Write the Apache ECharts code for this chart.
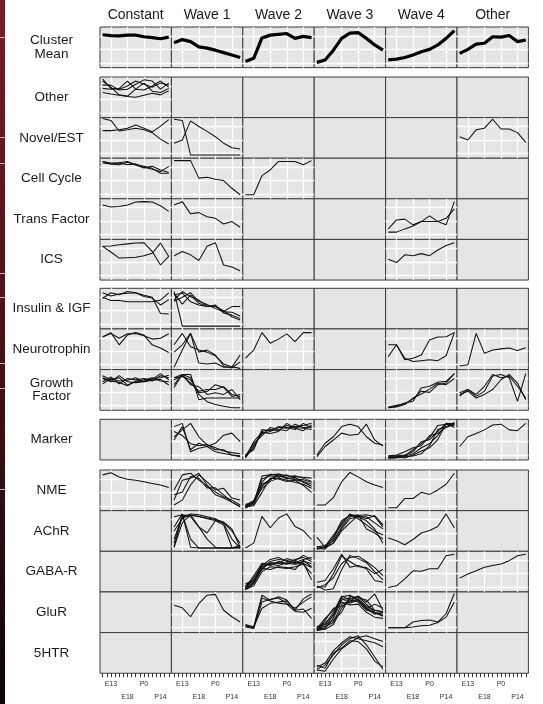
<!DOCTYPE html>
<html><head><meta charset="utf-8">
<script src="https://cdn.jsdelivr.net/npm/echarts@6/dist/echarts.min.js"></script>
<style>html,body{margin:0;padding:0;background:#fff}#c{width:543px;height:704px}</style>
</head><body><div id="c"></div><script>
// ---------- categories / tick labels ----------
const timePoints = ['E11','E13','E15','E18','E21','P0','P7','P14','A'];
const columns = ['Constant','Wave 1','Wave 2','Wave 3','Wave 4','Other'];
const rowNames = ['Cluster\nMean','Other','Novel/EST','Cell Cycle','Trans Factor','ICS','Insulin & IGF','Neurotrophin','Growth\nFactor','Marker','NME','AChR','GABA-R','GluR','5HTR'];
const xLabelIdx = [1,3,5,7];
const xTickVals = [0,0.5,1,1.5,2,2.5,3,3.5,4,4.5,5,5.5,6,6.5,7,7.5,8];
const xGridVals = [1,3,5,7];
const yGridVals = [0.12,0.45,0.78];

// ---------- series values (fraction of panel height) ----------
const clusterMean_constant = [[0.81,0.79,0.78,0.80,0.80,0.76,0.74,0.71,0.75]];
const clusterMean_wave1 = [[0.61,0.69,0.64,0.51,0.48,0.43,0.37,0.31,0.25]];
const clusterMean_wave2 = [[0.15,0.23,0.73,0.80,0.82,0.84,0.72,0.77,0.74]];
const clusterMean_wave3 = [[0.13,0.19,0.43,0.72,0.85,0.86,0.72,0.56,0.43]];
const clusterMean_wave4 = [[0.19,0.21,0.25,0.31,0.39,0.45,0.56,0.72,0.91]];
const clusterMean_other = [[0.35,0.45,0.58,0.60,0.76,0.75,0.79,0.64,0.68]];

const other_constant = [
  [0.95,0.72,0.70,0.78,0.90,0.82,0.75,0.85,0.80],
  [0.80,0.80,0.68,0.70,0.82,0.93,0.90,0.70,0.85],
  [0.62,0.58,0.55,0.52,0.50,0.55,0.60,0.56,0.66],
  [0.72,0.70,0.72,0.90,0.70,0.68,0.78,0.90,0.75],
  [0.90,0.75,0.56,0.53,0.70,0.85,0.65,0.62,0.72]];

const novel_constant = [
  [0.68,0.68,0.70,0.74,0.82,0.74,0.65,0.79,0.95],
  [0.98,0.93,0.67,0.70,0.74,0.70,0.63,0.47,0.35]];
const novel_wave1 = [
  [0.96,0.93,0.08,0.08,0.08,0.08,0.08,0.08,0.08],
  [0.37,0.45,0.92,0.78,0.66,0.53,0.37,0.26,0.23]];
const novel_other = [[0.53,0.45,0.70,0.74,0.96,0.72,0.72,0.63,0.39]];

const cellCycle_constant = [
  [0.92,0.88,0.89,0.92,0.84,0.80,0.75,0.63,0.63],
  [0.88,0.86,0.88,0.84,0.86,0.78,0.73,0.67,0.80],
  [0.92,0.86,0.84,0.90,0.83,0.76,0.80,0.71,0.65]];
const cellCycle_wave1 = [[0.94,0.94,0.94,0.51,0.53,0.48,0.45,0.26,0.10]];
const cellCycle_wave2 = [[0.10,0.10,0.57,0.71,0.92,0.92,0.92,0.84,0.94]];

const trans_constant = [[0.85,0.80,0.81,0.85,0.92,0.93,0.92,0.83,0.69]];
const trans_wave1 = [[0.85,0.93,0.63,0.66,0.56,0.52,0.38,0.44,0.30]];
const trans_wave4 = [
  [0.26,0.48,0.50,0.36,0.44,0.58,0.44,0.36,0.93],
  [0.18,0.18,0.26,0.33,0.44,0.44,0.44,0.52,0.75]];

const ics_constant = [
  [0.83,0.69,0.54,0.55,0.56,0.60,0.66,0.91,0.58],
  [0.83,0.84,0.87,0.89,0.91,0.92,0.70,0.37,0.58]];
const ics_wave1 = [[0.60,0.70,0.62,0.48,0.83,0.92,0.37,0.32,0.23]];
const ics_wave4 = [[0.51,0.43,0.62,0.60,0.65,0.60,0.74,0.85,0.92]];

const insulin_constant = [
  [0.89,0.81,0.86,0.88,0.89,0.83,0.78,0.38,0.37],
  [0.78,0.70,0.70,0.67,0.67,0.67,0.67,0.71,0.89],
  [0.75,0.89,0.84,0.92,0.89,0.80,0.76,0.59,0.72]];
const insulin_wave1 = [
  [0.92,0.07,0.07,0.07,0.07,0.07,0.07,0.07,0.07],
  [0.88,0.61,0.83,0.63,0.55,0.56,0.43,0.55,0.55],
  [0.84,0.88,0.67,0.59,0.55,0.59,0.39,0.34,0.26],
  [0.71,0.92,0.79,0.71,0.56,0.55,0.45,0.30,0.22],
  [0.68,0.78,0.89,0.68,0.60,0.50,0.42,0.41,0.32]];

const neuro_constant = [
  [0.80,0.91,0.61,0.85,0.91,0.85,0.61,0.53,0.42],
  [0.81,0.89,0.77,0.88,0.89,0.83,0.75,0.77,0.88]];
const neuro_wave1 = [
  [0.06,0.48,0.89,0.16,0.14,0.16,0.06,0.06,0.36],
  [0.61,0.89,0.56,0.48,0.43,0.34,0.14,0.07,0.03],
  [0.43,0.61,0.89,0.43,0.48,0.36,0.09,0.04,0.19]];
const neuro_wave2 = [[0.28,0.48,0.91,0.65,0.75,0.88,0.69,0.91,0.91]];
const neuro_wave4 = [
  [0.32,0.61,0.24,0.28,0.36,0.73,0.80,0.81,0.91],
  [0.61,0.61,0.28,0.20,0.22,0.24,0.22,0.34,0.91]];
const neuro_other = [[0.09,0.12,0.89,0.40,0.48,0.51,0.53,0.47,0.54]];

const growth_constant = [
  [0.85,0.75,0.80,0.62,0.70,0.72,0.78,0.80,0.86],
  [0.70,0.82,0.65,0.78,0.75,0.78,0.72,0.85,0.80],
  [0.78,0.70,0.85,0.70,0.68,0.70,0.74,0.76,0.62],
  [0.80,0.72,0.68,0.60,0.72,0.75,0.80,0.72,0.70],
  [0.65,0.78,0.72,0.74,0.80,0.70,0.76,0.90,0.75]];
const growth_wave1 = [
  [0.63,0.88,0.88,0.26,0.30,0.30,0.30,0.30,0.30],
  [0.80,0.88,0.80,0.39,0.21,0.14,0.10,0.06,0.06],
  [0.75,0.84,0.67,0.47,0.51,0.51,0.58,0.39,0.34],
  [0.56,0.88,0.63,0.58,0.39,0.43,0.39,0.51,0.26],
  [0.80,0.83,0.75,0.43,0.46,0.63,0.56,0.34,0.39]];
const growth_wave4 = [
  [0.06,0.10,0.18,0.22,0.55,0.59,0.69,0.71,0.90],
  [0.08,0.12,0.16,0.28,0.47,0.44,0.63,0.67,0.90],
  [0.06,0.08,0.14,0.30,0.40,0.52,0.66,0.63,0.78]];
const growth_other = [
  [0.43,0.51,0.34,0.47,0.84,0.88,0.80,0.22,0.90],
  [0.39,0.47,0.30,0.39,0.51,0.75,0.88,0.67,0.26],
  [0.35,0.51,0.39,0.59,0.88,0.80,0.84,0.59,0.30]];

const marker_wave1 = [
  [0.82,0.90,0.20,0.29,0.33,0.41,0.61,0.66,0.45],
  [0.57,0.74,0.90,0.57,0.37,0.25,0.25,0.12,0.08],
  [0.49,0.82,0.25,0.41,0.33,0.20,0.16,0.12,0.10],
  [0.70,0.60,0.40,0.35,0.38,0.30,0.22,0.18,0.15]];
const marker_wave2 = [
  [0.05,0.35,0.65,0.70,0.80,0.78,0.82,0.85,0.90],
  [0.08,0.30,0.70,0.75,0.72,0.85,0.80,0.78,0.75],
  [0.10,0.40,0.60,0.80,0.75,0.72,0.88,0.80,0.82],
  [0.12,0.25,0.75,0.72,0.82,0.80,0.75,0.90,0.78],
  [0.06,0.45,0.68,0.65,0.70,0.90,0.78,0.72,0.86]];
const marker_wave3 = [
  [0.12,0.41,0.57,0.82,0.88,0.82,0.57,0.41,0.37],
  [0.08,0.33,0.49,0.66,0.61,0.63,0.88,0.49,0.34]];
const marker_wave4 = [
  [0.05,0.08,0.10,0.25,0.40,0.55,0.85,0.88,0.90],
  [0.05,0.05,0.10,0.15,0.30,0.40,0.60,0.88,0.85],
  [0.08,0.10,0.12,0.20,0.45,0.50,0.70,0.90,0.88],
  [0.05,0.06,0.08,0.10,0.15,0.35,0.75,0.82,0.92],
  [0.10,0.12,0.20,0.30,0.35,0.60,0.65,0.80,0.88],
  [0.06,0.08,0.05,0.12,0.22,0.30,0.50,0.90,0.80]];
const marker_other = [[0.33,0.57,0.65,0.74,0.86,0.88,0.74,0.72,0.90]];

const nme_constant = [[0.88,0.93,0.83,0.77,0.75,0.71,0.67,0.63,0.57]];
const nme_wave1 = [
  [0.51,0.88,0.92,0.75,0.61,0.46,0.34,0.26,0.14],
  [0.26,0.75,0.80,0.92,0.63,0.39,0.31,0.21,0.10],
  [0.14,0.26,0.63,0.88,0.71,0.51,0.55,0.31,0.26],
  [0.39,0.46,0.84,0.80,0.56,0.56,0.39,0.21,0.09]];
const nme_wave2 = [
  [0.10,0.18,0.85,0.88,0.90,0.86,0.84,0.82,0.80],
  [0.12,0.20,0.70,0.90,0.85,0.82,0.86,0.80,0.72],
  [0.08,0.15,0.60,0.78,0.86,0.80,0.76,0.72,0.65],
  [0.15,0.22,0.55,0.72,0.80,0.75,0.70,0.65,0.55],
  [0.10,0.12,0.45,0.80,0.78,0.72,0.75,0.62,0.45],
  [0.06,0.20,0.78,0.86,0.82,0.88,0.78,0.76,0.70],
  [0.12,0.25,0.65,0.75,0.90,0.78,0.82,0.70,0.60]];
const nme_wave3 = [[0.14,0.14,0.32,0.71,0.94,0.83,0.71,0.63,0.57]];
const nme_wave4 = [[0.07,0.07,0.30,0.30,0.45,0.40,0.51,0.65,0.92]];

const achr_wave1 = [
  [0.10,0.88,0.90,0.85,0.82,0.78,0.72,0.55,0.10],
  [0.20,0.90,0.85,0.60,0.45,0.75,0.65,0.10,0.08],
  [0.85,0.90,0.30,0.08,0.08,0.08,0.08,0.08,0.08],
  [0.60,0.92,0.10,0.08,0.08,0.08,0.08,0.08,0.15],
  [0.10,0.70,0.90,0.60,0.30,0.10,0.08,0.08,0.10],
  [0.30,0.85,0.88,0.86,0.80,0.76,0.70,0.50,0.20],
  [0.50,0.80,0.92,0.90,0.85,0.80,0.68,0.30,0.08]];
const achr_wave2 = [[0.08,0.20,0.86,0.58,0.82,0.92,0.61,0.51,0.29]];
const achr_wave3 = [
  [0.35,0.10,0.20,0.55,0.80,0.85,0.75,0.55,0.20],
  [0.08,0.05,0.30,0.70,0.90,0.88,0.90,0.85,0.60],
  [0.10,0.15,0.25,0.60,0.85,0.90,0.55,0.45,0.30],
  [0.05,0.10,0.35,0.75,0.88,0.85,0.85,0.70,0.55],
  [0.12,0.08,0.20,0.50,0.70,0.88,0.80,0.88,0.65],
  [0.06,0.12,0.40,0.65,0.92,0.80,0.65,0.50,0.40]];
const achr_wave4 = [[0.33,0.26,0.16,0.29,0.45,0.51,0.61,0.92,0.58]];

const gaba_wave2 = [
  [0.08,0.20,0.60,0.70,0.72,0.68,0.75,0.70,0.60],
  [0.10,0.25,0.70,0.68,0.65,0.72,0.80,0.85,0.75],
  [0.12,0.30,0.55,0.75,0.80,0.78,0.72,0.80,0.85],
  [0.06,0.15,0.50,0.62,0.60,0.58,0.62,0.68,0.45],
  [0.15,0.35,0.65,0.80,0.85,0.75,0.70,0.75,0.70],
  [0.05,0.22,0.58,0.55,0.62,0.60,0.55,0.78,0.62],
  [0.20,0.28,0.62,0.72,0.70,0.82,0.76,0.90,0.80],
  [0.10,0.40,0.70,0.65,0.75,0.70,0.68,0.72,0.30]];
const gaba_wave3 = [
  [0.24,0.28,0.57,0.93,0.61,0.65,0.57,0.28,0.24],
  [0.12,0.12,0.45,0.88,0.75,0.62,0.60,0.45,0.55],
  [0.15,0.05,0.08,0.55,0.90,0.82,0.72,0.50,0.30],
  [0.10,0.18,0.35,0.70,0.85,0.88,0.75,0.60,0.40]];
const gaba_wave4 = [[0.11,0.15,0.32,0.52,0.51,0.57,0.57,0.89,0.93]];
const gaba_other = [[0.34,0.44,0.52,0.61,0.65,0.69,0.77,0.89,0.93]];

const glur_wave1 = [[0.67,0.61,0.39,0.71,0.92,0.94,0.55,0.39,0.26]];
const glur_wave2 = [
  [0.18,0.14,0.92,0.80,0.88,0.80,0.55,0.83,0.95],
  [0.14,0.10,0.75,0.82,0.85,0.72,0.60,0.75,0.88],
  [0.20,0.14,0.60,0.72,0.75,0.78,0.55,0.58,0.35],
  [0.16,0.12,0.85,0.78,0.72,0.70,0.52,0.50,0.60]];
const glur_wave3 = [
  [0.05,0.10,0.35,0.80,0.85,0.82,0.60,0.45,0.50],
  [0.08,0.20,0.50,0.90,0.80,0.75,0.55,0.50,0.45],
  [0.10,0.15,0.25,0.70,0.78,0.88,0.70,0.50,0.40],
  [0.05,0.30,0.60,0.65,0.75,0.82,0.65,0.55,0.50],
  [0.12,0.25,0.40,0.85,0.72,0.80,0.58,0.70,0.60],
  [0.06,0.08,0.20,0.60,0.82,0.90,0.75,0.95,0.55],
  [0.10,0.35,0.55,0.75,0.68,0.70,0.50,0.38,0.35],
  [0.08,0.12,0.45,0.88,0.92,0.78,0.62,0.48,0.42],
  [0.15,0.20,0.30,0.50,0.90,0.85,0.80,0.55,0.52]];
const glur_wave4 = [
  [0.12,0.12,0.12,0.26,0.30,0.31,0.26,0.47,0.96],
  [0.12,0.12,0.12,0.14,0.17,0.18,0.25,0.38,0.75]];

const ht5_wave3 = [
  [0.10,0.20,0.45,0.70,0.85,0.92,0.70,0.40,0.10],
  [0.15,0.25,0.55,0.75,0.90,0.85,0.80,0.75,0.65],
  [0.08,0.05,0.35,0.60,0.75,0.88,0.92,0.85,0.78],
  [0.20,0.12,0.50,0.62,0.80,0.78,0.60,0.30,0.15]];

// which panel gets which lines: [row, column, lines]
const panelList = [
  ['Cluster\nMean','Constant',clusterMean_constant],['Cluster\nMean','Wave 1',clusterMean_wave1],
  ['Cluster\nMean','Wave 2',clusterMean_wave2],['Cluster\nMean','Wave 3',clusterMean_wave3],
  ['Cluster\nMean','Wave 4',clusterMean_wave4],['Cluster\nMean','Other',clusterMean_other],
  ['Other','Constant',other_constant],
  ['Novel/EST','Constant',novel_constant],['Novel/EST','Wave 1',novel_wave1],['Novel/EST','Other',novel_other],
  ['Cell Cycle','Constant',cellCycle_constant],['Cell Cycle','Wave 1',cellCycle_wave1],['Cell Cycle','Wave 2',cellCycle_wave2],
  ['Trans Factor','Constant',trans_constant],['Trans Factor','Wave 1',trans_wave1],['Trans Factor','Wave 4',trans_wave4],
  ['ICS','Constant',ics_constant],['ICS','Wave 1',ics_wave1],['ICS','Wave 4',ics_wave4],
  ['Insulin & IGF','Constant',insulin_constant],['Insulin & IGF','Wave 1',insulin_wave1],
  ['Neurotrophin','Constant',neuro_constant],['Neurotrophin','Wave 1',neuro_wave1],['Neurotrophin','Wave 2',neuro_wave2],
  ['Neurotrophin','Wave 4',neuro_wave4],['Neurotrophin','Other',neuro_other],
  ['Growth\nFactor','Constant',growth_constant],['Growth\nFactor','Wave 1',growth_wave1],
  ['Growth\nFactor','Wave 4',growth_wave4],['Growth\nFactor','Other',growth_other],
  ['Marker','Wave 1',marker_wave1],['Marker','Wave 2',marker_wave2],['Marker','Wave 3',marker_wave3],
  ['Marker','Wave 4',marker_wave4],['Marker','Other',marker_other],
  ['NME','Constant',nme_constant],['NME','Wave 1',nme_wave1],['NME','Wave 2',nme_wave2],
  ['NME','Wave 3',nme_wave3],['NME','Wave 4',nme_wave4],
  ['AChR','Wave 1',achr_wave1],['AChR','Wave 2',achr_wave2],['AChR','Wave 3',achr_wave3],['AChR','Wave 4',achr_wave4],
  ['GABA-R','Wave 2',gaba_wave2],['GABA-R','Wave 3',gaba_wave3],['GABA-R','Wave 4',gaba_wave4],['GABA-R','Other',gaba_other],
  ['GluR','Wave 1',glur_wave1],['GluR','Wave 2',glur_wave2],['GluR','Wave 3',glur_wave3],['GluR','Wave 4',glur_wave4],
  ['5HTR','Wave 3',ht5_wave3]
];

// ---------- layout ----------
const FONT = '"Liberation Sans", Arial, Helvetica, sans-serif';
const colLeft = [100,171.4,242.8,314.2,385.6,457];
const colW = 71.4;
const rowTop = [27,77,117.6,158.2,198.8,239.4,288.3,328.95,369.6,419.3,470,510.65,551.3,591.95,632.6];
const rowH = 40.65;

const dataMap = {};
panelList.forEach(([r,c,lines]) => { dataMap[rowNames.indexOf(r)+'_'+columns.indexOf(c)] = lines; });

const grid=[], xAxis=[], yAxis=[], series=[], graphic=[];
rowNames.forEach((rn, r) => {
  columns.forEach((cn, c) => {
    const gi = grid.length;
    const lines = dataMap[r+'_'+c];
    grid.push({left:colLeft[c], top:rowTop[r], width:colW, height:rowH, show:true,
      backgroundColor:'#e5e5e5', borderColor:'#3a3a3a', borderWidth:1});
    const xi = xAxis.length, yi = yAxis.length;
    xAxis.push({gridIndex:gi, type:'value', min:-0.32, max:8.32, position:'top',
      axisLine:{show:false}, axisLabel:{show:false}, axisTick:{show:false}, splitLine:{show:false}});
    yAxis.push({gridIndex:gi, type:'value', min:0, max:1,
      axisLine:{show:false}, axisLabel:{show:false}, axisTick:{show:false}, splitLine:{show:false}});
    if (r === rowNames.length - 1) {
      xAxis.push({gridIndex:gi, type:'value', min:-0.32, max:8.32, position:'bottom',
        axisLine:{show:false},
        axisTick:{show:true, customValues:xTickVals, length:4, lineStyle:{color:'#333', width:1}},
        axisLabel:{show:true, customValues:xLabelIdx, margin:4, fontSize:7, lineHeight:13,
          color:'#333', fontFamily:FONT,
          formatter:(v)=>{ const i=Math.round(v); const k=xLabelIdx.indexOf(i);
            return (k%2===1 ? '\n' : '') + timePoints[i]; }},
        splitLine:{show:false}});
    }
    if (lines) {
      // white reference grid (drawn under the data lines)
      series.push({type:'line', xAxisIndex:xi, yAxisIndex:yi, symbol:'none', silent:true, z:1,
        data: lines[0].map((v,i)=>[i,v]), lineStyle:{opacity:0},
        markLine:{silent:true, z:1, zlevel:0, symbol:['none','none'], label:{show:false}, emphasis:{disabled:true},
          animation:false, lineStyle:{color:'#ffffff', width:1.3, type:'solid'},
          data:[...xGridVals.map(v=>({xAxis:v})), ...yGridVals.map(v=>({yAxis:v}))]}});
      const thick = r === 0;
      lines.forEach((vals) => {
        series.push({type:'line', xAxisIndex:xi, yAxisIndex:yi, symbol:'none', silent:true, z:10,
          data: vals.map((v,i)=>[i,v]),
          lineStyle:{color: thick ? '#000' : '#111', width: thick ? 3.2 : 1.05}});
      });
    }
  });
  graphic.push({type:'text', x:51.5, y:rowTop[r]+rowH/2,
    style:{text:rn, fill:'#1a1a1a', font:'13.5px '+FONT, textAlign:'center', textVerticalAlign:'middle', lineHeight:13.5}});
});
columns.forEach((cn,c)=>{
  graphic.push({type:'text', x:colLeft[c]+colW/2, y:15,
    style:{text:cn, fill:'#1a1a1a', font:'14px '+FONT, textAlign:'center', textVerticalAlign:'middle'}});
});
graphic.push({type:'rect', shape:{x:0,y:0,width:5,height:704},
  style:{fill:new echarts.graphic.LinearGradient(0,0,0,1,[{offset:0,color:'#7c1a2b'},{offset:0.5,color:'#4a0f17'},{offset:1,color:'#0e0505'}])}});
[37,137,163,273,297,363,388,489].forEach(y=>{
  graphic.push({type:'rect', shape:{x:0,y:y,width:5,height:1}, style:{fill:'#b8b8b8'}});
});

const chart = echarts.init(document.getElementById('c'));
chart.setOption({animation:false, backgroundColor:'#ffffff', grid, xAxis, yAxis, series, graphic});
</script></body></html>
